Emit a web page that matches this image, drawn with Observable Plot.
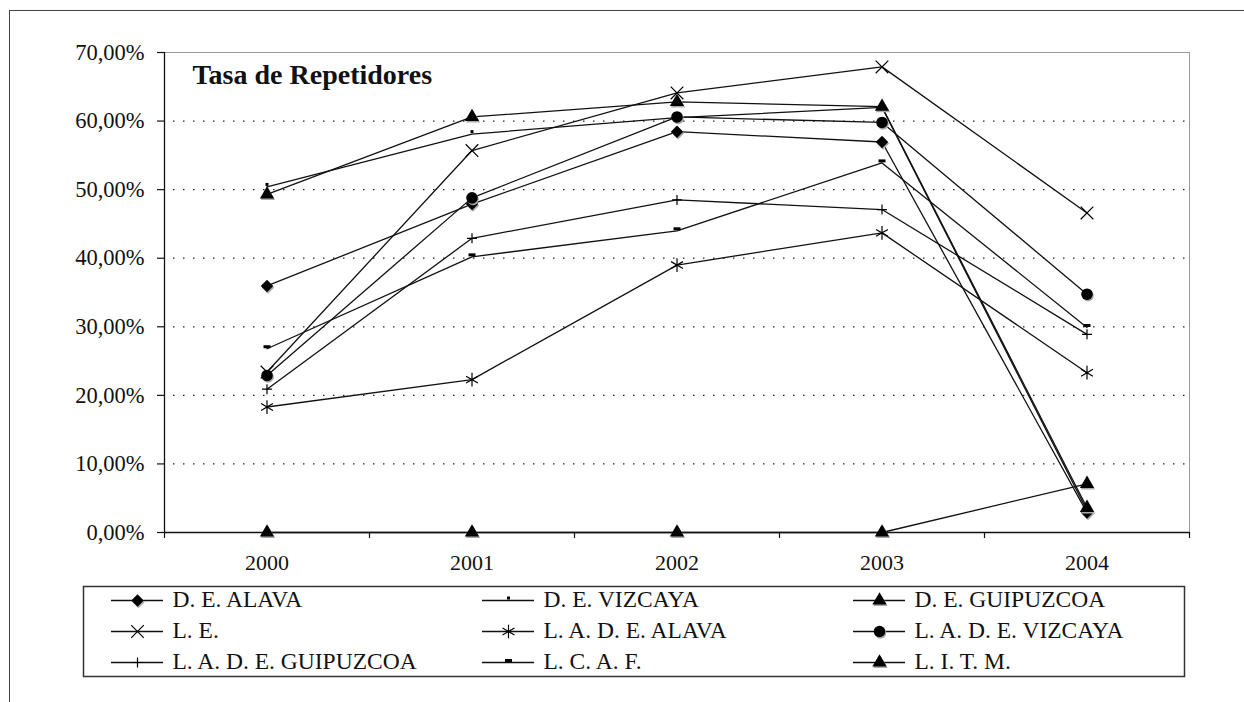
<!DOCTYPE html>
<html>
<head>
<meta charset="utf-8">
<script src="https://cdn.jsdelivr.net/npm/d3@7"></script>
<script src="https://cdn.jsdelivr.net/npm/@observablehq/plot@0.6"></script>
<style>
  html, body { margin: 0; padding: 0; background: #fff; overflow: hidden; }
  #wrap { position: relative; width: 1244px; height: 702px; overflow: hidden; }
  #wrap svg { position: absolute; left: 0; top: 0; }
  #wrap svg, #wrap svg text { font-family: 'Liberation Serif', 'Times New Roman', serif !important; }
  #outer { position: absolute; left: 9px; top: 10px; width: 1300px; height: 800px;
           border-left: 1.5px solid #444; border-top: 1.5px solid #444; }
</style>
</head>
<body>
<div id="wrap"><div id="outer"></div></div>
<script>
// ---- data (percent values) ----
const years = [2000, 2001, 2002, 2003, 2004];
const seriesNames = [
  "D. E. ALAVA", "D. E. VIZCAYA", "D. E. GUIPUZCOA",
  "L. E.", "L. A. D. E. ALAVA", "L. A. D. E. VIZCAYA",
  "L. A. D. E. GUIPUZCOA", "L. C. A. F.", "L. I. T. M."
];
const deAlava       = [35.96, 47.9, 58.45, 56.95, 2.9];
const deVizcaya     = [50.4, 58.1, 60.5, 62.0, 3.2];
const deGuipuzcoa   = [49.3, 60.6, 62.8, 62.1, 3.6];
const le            = [23.4, 55.7, 64.1, 67.9, 46.6];
const ladeAlava     = [18.3, 22.3, 39.0, 43.7, 23.3];
const ladeVizcaya   = [22.9, 48.8, 60.6, 59.8, 34.75];
const ladeGuipuzcoa = [20.9, 42.9, 48.5, 47.1, 28.9];
const lcaf          = [26.8, 40.2, 44.0, 53.9, 29.9];
const litm          = [0, 0, 0, 0, 7.1];
const yTicks = [0, 10, 20, 30, 40, 50, 60, 70];
const titleText = "Tasa de Repetidores";

const seriesValues = [deAlava, deVizcaya, deGuipuzcoa, le, ladeAlava, ladeVizcaya, ladeGuipuzcoa, lcaf, litm];

// ---- derived tables ----
const rows = [];
seriesNames.forEach((name, i) => years.forEach((year, j) => rows.push({name, idx: i, year, value: seriesValues[i][j]})));
const bounds = [years[0] - 0.5, ...years.map(y => y + 0.5)];

// marker styles
const dotSym  = {draw(ctx) { ctx.rect(-1.5, -1.5, 3, 3); }};
const dashSym = {draw(ctx) { ctx.rect(-3.5, -1.5, 7, 3); }};
const markers = [
  {symbol: "diamond2", r: 5.6, fill: "#000", stroke: "none", shadow: true},
  {symbol: dotSym, r: 2, fill: "#000", stroke: "none", dy: -2.5},
  {symbol: "triangle", r: 5.3, fill: "#000", stroke: "none", shadow: true},
  {symbol: "times", r: 5.8, fill: "none", stroke: "#000"},
  {symbol: "asterisk", r: 6.5, fill: "none", stroke: "#000"},
  {symbol: "circle", r: 5.8, fill: "#000", stroke: "none", shadow: true},
  {symbol: "plus", r: 3.3, fill: "none", stroke: "#000"},
  {symbol: dashSym, r: 2, fill: "#000", stroke: "none", dy: -2},
  {symbol: "triangle", r: 5.3, fill: "#000", stroke: "none", shadow: true}
];

function markerMarks(data, xKey, yKey, dxBase) {
  const out = [];
  markers.forEach((m, i) => {
    const sub = data.filter(d => d.idx === i);
    if (m.shadow) out.push(Plot.dot(sub, {x: xKey, y: yKey, symbol: m.symbol, r: m.r, fill: "#aaa", stroke: "none", dx: dxBase + 1, dy: 1.5}));
    out.push(Plot.dot(sub, {x: xKey, y: yKey, symbol: m.symbol, r: m.r, fill: m.fill, stroke: m.stroke, strokeWidth: 1.2, dx: dxBase, dy: m.dy || 0}));
  });
  return out;
}

const fmt = d => d.toFixed(2).replace(".", ",") + "%";
const font = "'Liberation Serif', 'Times New Roman', serif";

const chart = Plot.plot({
  width: 1244,
  height: 702,
  marginLeft: 164,
  marginRight: 55,
  marginTop: 52,
  marginBottom: 170,
  style: {fontFamily: font, fontSize: "22px", background: "transparent", color: "#111"},
  x: {domain: [bounds[0], bounds[bounds.length - 1]], axis: null, label: null},
  y: {domain: [0, 70], axis: null, label: null},
  marks: [
    Plot.frame({stroke: "#999", strokeWidth: 1}),
    Plot.ruleY(yTicks.filter(t => t > 0 && t < 70), {stroke: "#222", strokeWidth: 1.3, strokeDasharray: "1.5 8.5", strokeDashoffset: -9}),
    Plot.axisY({ticks: yTicks, tickSize: 7, tickPadding: 13, tickFormat: fmt, fontSize: 22.5, fontFamily: font, label: null, stroke: "#111", strokeWidth: 1.2}),
    Plot.axisX({ticks: bounds, tickSize: 6, tickFormat: () => "", label: null, stroke: "#111", strokeWidth: 1.2}),
    Plot.axisX({ticks: years, tickSize: 0, tickPadding: 22, tickFormat: d => String(d), fontSize: 22, fontFamily: font, label: null}),
    Plot.ruleX([bounds[0]], {stroke: "#111", strokeWidth: 1.3}),
    Plot.ruleY([0], {stroke: "#111", strokeWidth: 1.3}),
    Plot.line(rows, {x: "year", y: "value", z: "name", stroke: "#111", strokeWidth: 1.3}),
    ...markerMarks(rows, "year", "value", 0),
    Plot.text([titleText], {frameAnchor: "top-left", dx: 28, dy: 31.5, lineAnchor: "bottom", textAnchor: "start", fontSize: 28, fontWeight: "bold", fontFamily: font, fill: "#111"})
  ]
});

// ---- legend ----
const legendRows = seriesNames.map((name, i) => ({name, idx: i, col: i % 3, row: Math.floor(i / 3)}));
const sampleLen = 52 / 371;
const legend = Plot.plot({
  width: 1244,
  height: 702,
  marginLeft: 83,
  marginRight: 60,
  marginTop: 586,
  marginBottom: 26,
  style: {fontFamily: font, fontSize: "22px", background: "transparent", color: "#111"},
  x: {domain: [0, 3], range: [111, 1224], axis: null},
  y: {domain: [0, 2], range: [600, 662], axis: null},
  marks: [
    Plot.frame({stroke: "#333", strokeWidth: 1.5}),
    Plot.ruleY(legendRows, {y: "row", x1: "col", x2: d => d.col + sampleLen, stroke: "#111", strokeWidth: 1.3}),
    ...markerMarks(legendRows, "col", "row", 26),
    Plot.text(legendRows, {x: "col", y: "row", text: "name", dx: 61, dy: -1, textAnchor: "start", fontSize: 23.5, fontFamily: font, fill: "#111"})
  ]
});

const wrap = document.getElementById("wrap");
wrap.appendChild(chart);
wrap.appendChild(legend);
</script>
</body>
</html>
